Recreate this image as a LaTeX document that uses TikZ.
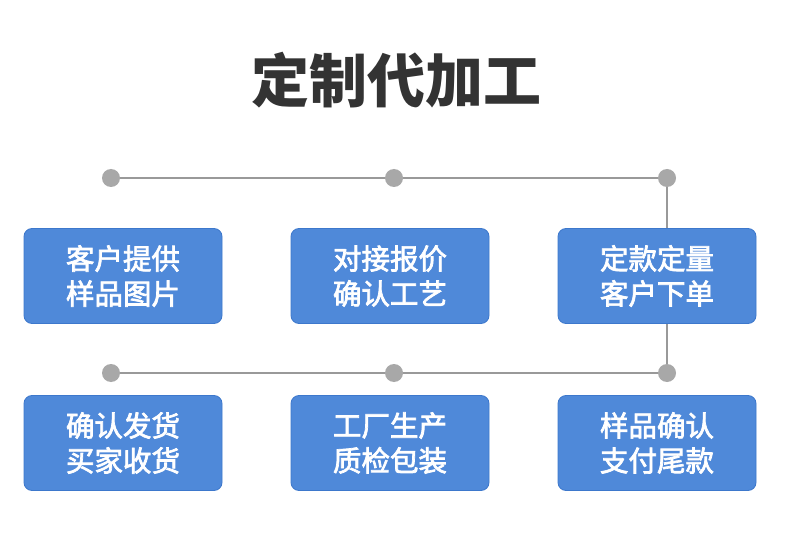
\documentclass[tikz,border=0pt]{standalone}
\usepackage{fontspec}
\newfontfamily\cjk{Noto Sans CJK SC}
\newfontfamily\cjkm{Noto Sans CJK SC}[FakeBold=2.5]
\definecolor{boxblue}{HTML}{4F89D9}
\definecolor{boxedge}{HTML}{3D78CC}
\definecolor{dotgray}{HTML}{A8A8A8}
\definecolor{linegray}{HTML}{999999}
\definecolor{titlegray}{HTML}{333333}
\begin{document}
\begin{tikzpicture}[x=1pt,y=-1pt,
  stepbox/.style={draw=boxedge,line width=0.8pt,fill=boxblue,rounded corners=8pt,
    minimum width=198pt,minimum height=95pt,inner sep=0pt,
    text=white,align=center,font=\cjkm\fontsize{28.5}{35}\selectfont},
  dot/.style={circle,fill=dotgray,minimum size=18pt,inner sep=0pt},
  conn/.style={draw=linegray,line width=1.3pt}]
\useasboundingbox (0,0) rectangle (790,556);
\fill[white] (0,0) rectangle (790,556);
\node[text=titlegray,font=\cjk\bfseries\fontsize{58}{64}\selectfont] (title) at (396,80) {定制代加工};
% top dots
\node[dot] (d1) at (111,178) {};
\node[dot] (d2) at (394,178) {};
\node[dot] (d3) at (667,178) {};
% bottom dots
\node[dot] (d4) at (111,373) {};
\node[dot] (d5) at (394,373) {};
\node[dot] (d6) at (667,373) {};
\draw[conn] (d1) -- (d2);
\draw[conn] (d2) -- (d3);
\draw[conn] (d3) -- (d6);
\draw[conn] (d4) -- (d5);
\draw[conn] (d5) -- (d6);
% boxes
\node[stepbox] (b1) at (123,276) {客户提供\\样品图片};
\node[stepbox] (b2) at (390,276) {对接报价\\确认工艺};
\node[stepbox] (b3) at (657,276) {定款定量\\客户下单};
\node[stepbox] (b4) at (123,443) {确认发货\\买家收货};
\node[stepbox] (b5) at (390,443) {工厂生产\\质检包装};
\node[stepbox] (b6) at (657,443) {样品确认\\支付尾款};
\end{tikzpicture}
\end{document}
